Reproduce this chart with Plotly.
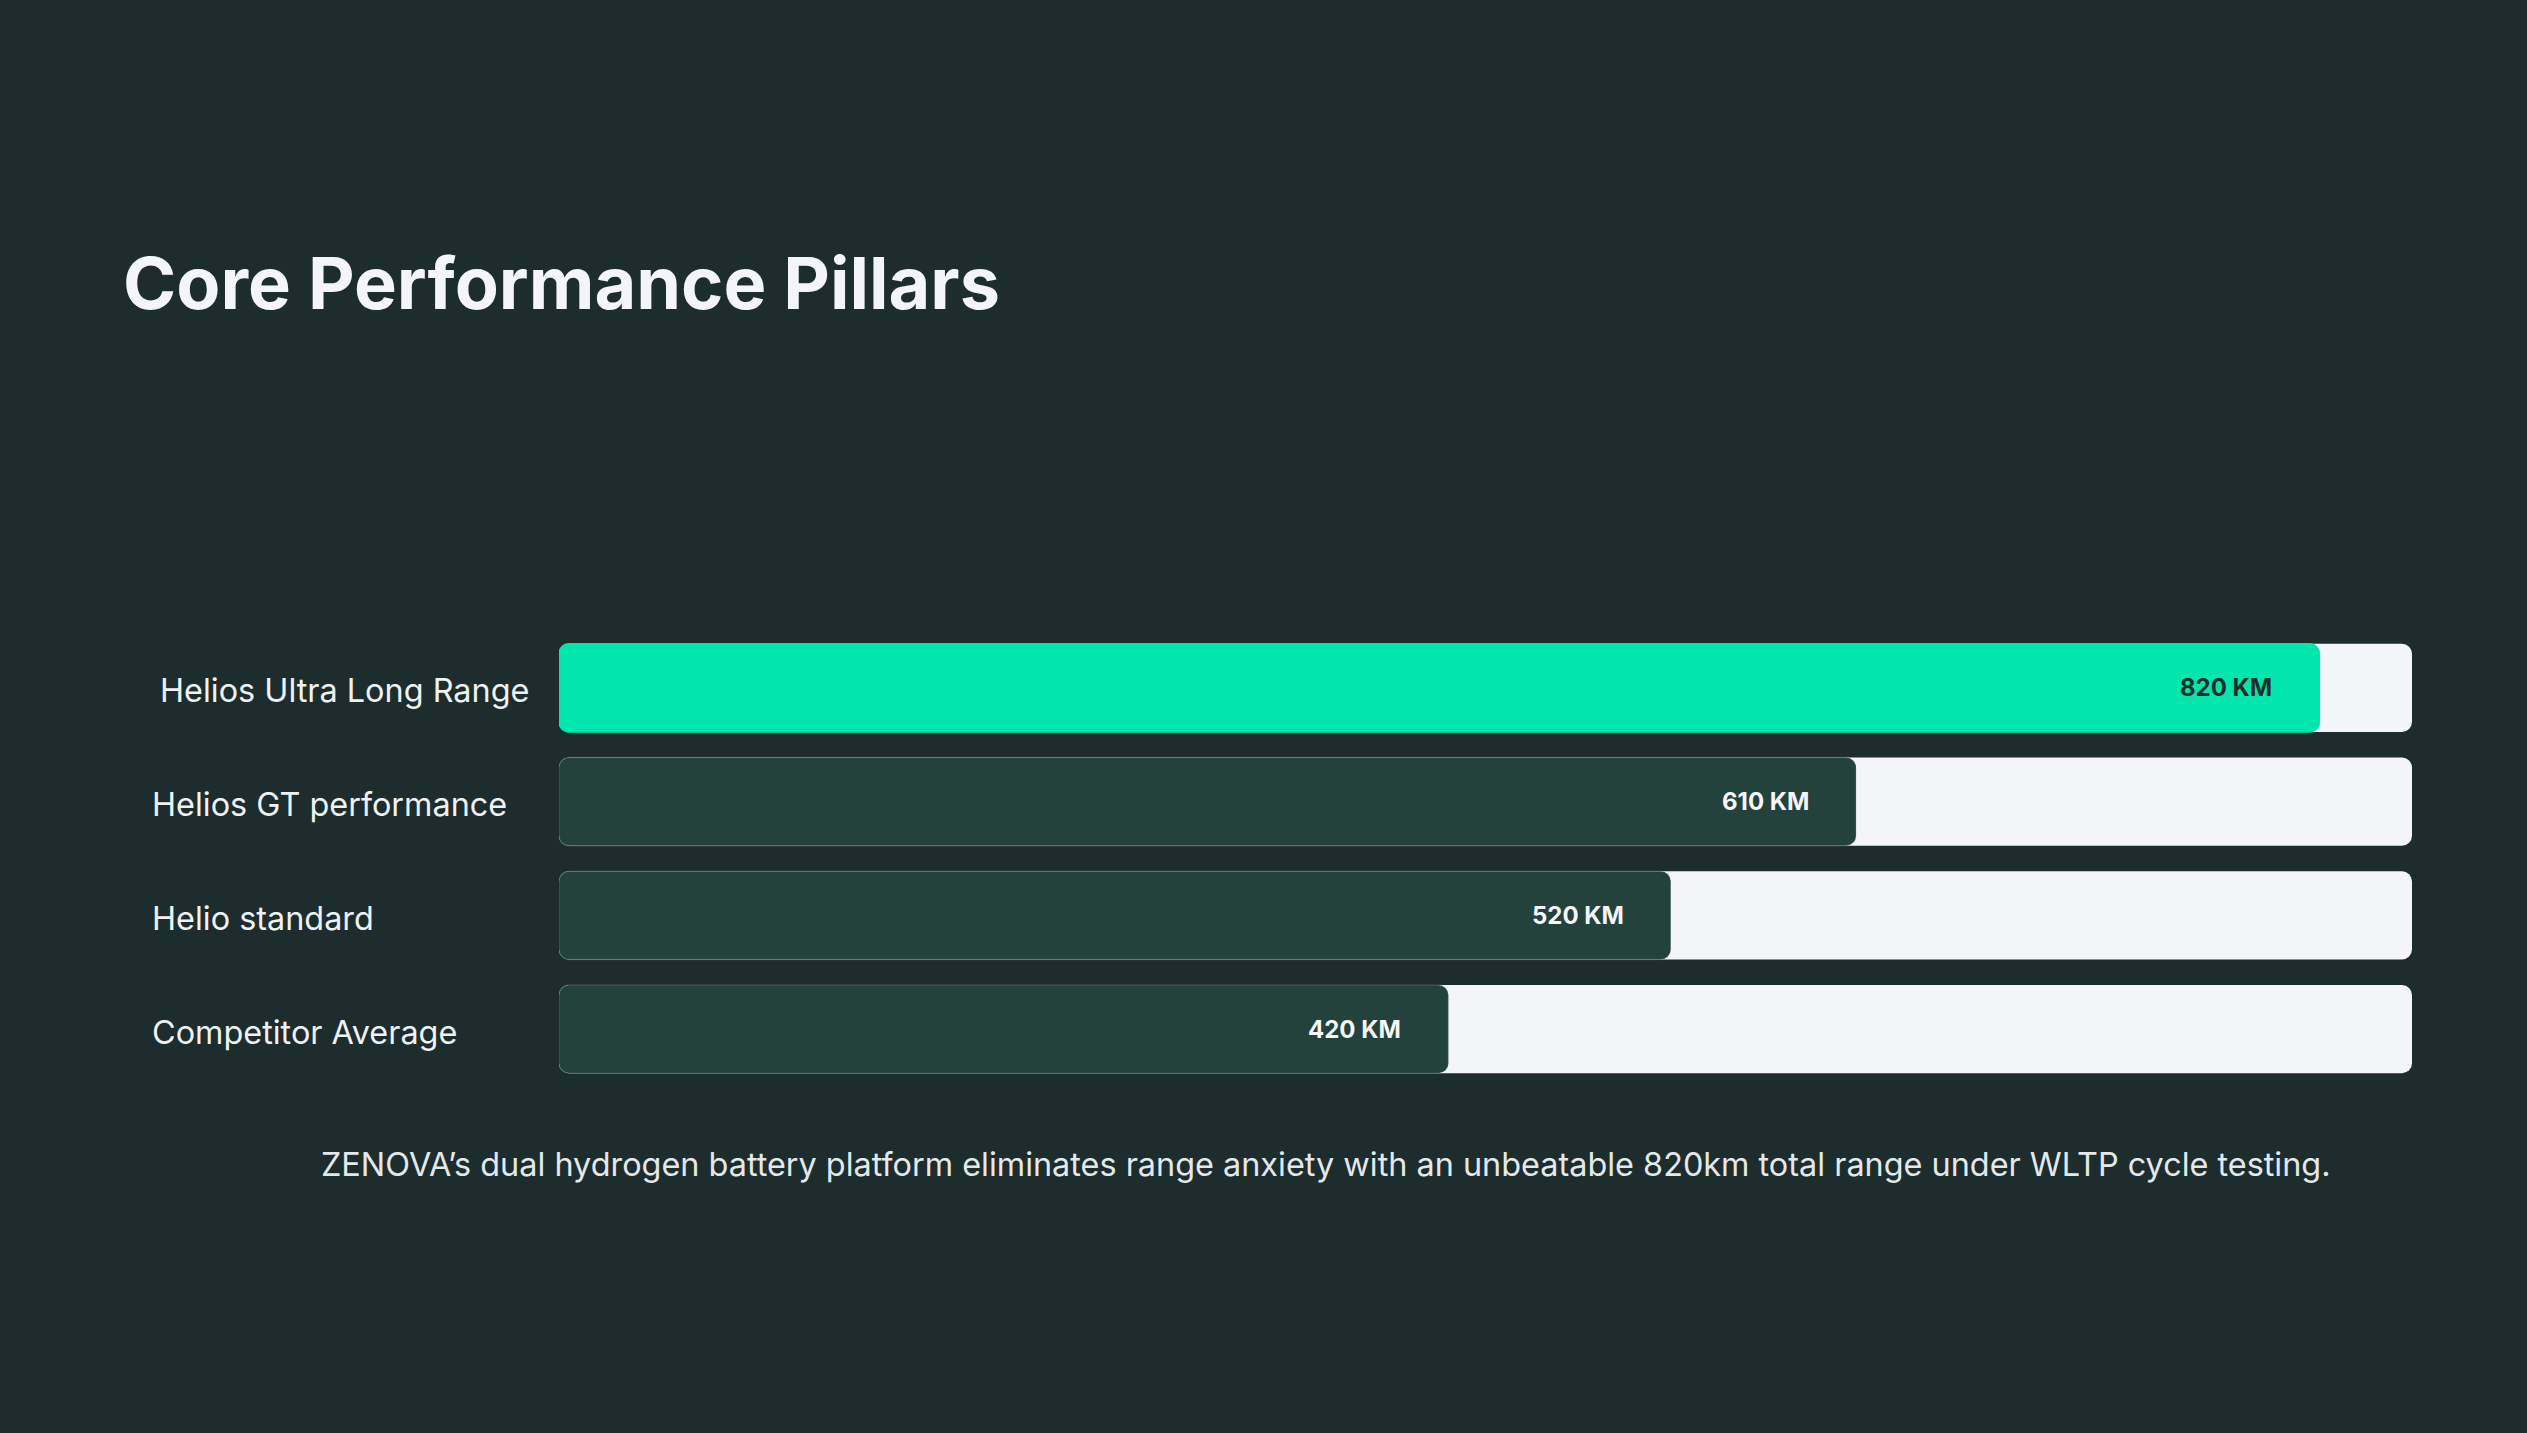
#!/usr/bin/env python3
"""Core Performance Pillars: range per model as progress-style bars."""

import plotly.graph_objects as go

MODELS = ["Helios Ultra Long Range", "Helios GT performance",
          "Helio standard", "Competitor Average"]
RANGE_KM = [820, 610, 520, 420]
FILL_PCT = [95, 70, 60, 48]          # share of the track each bar fills
TRACK_MAX = 100

TITLE = "Core Performance Pillars"
CAPTION = ("ZENOVA\u2019s dual hydrogen battery platform eliminates range anxiety "
           "with an unbeatable 820km total range under WLTP cycle testing.")

BG = "#1d2c2d"
TRACK = "#f3f5f8"
MINT = "#00e6ad"
DARK = "#22423b"
TXT = "#eef2f4"
FONT = "Inter"

W, H = 2527, 1433
BAR_W = 0.774
RADIUS = 10

n = len(MODELS)
fill_colors = [MINT] + [DARK] * (n - 1)
value_colors = [BG] + [TRACK] * (n - 1)
line_colors = [MINT] + ["rgba(255,255,255,0.12)"] * (n - 1)

fig = go.Figure()

# an explicit base makes plotly round both ends of the bar
fig.add_trace(go.Bar(
    y=MODELS, x=[TRACK_MAX] * n, base=[0] * n, orientation="h",
    marker=dict(color=TRACK, cornerradius=RADIUS, line=dict(width=0)),
    width=BAR_W, hoverinfo="skip", showlegend=False,
))
fig.add_trace(go.Bar(
    y=MODELS, x=FILL_PCT, base=[0] * n, orientation="h",
    marker=dict(color=fill_colors, cornerradius=RADIUS,
                line=dict(color=line_colors, width=1.5)),
    width=BAR_W, customdata=RANGE_KM,
    hovertemplate="%{y}: %{customdata} km<extra></extra>", showlegend=False,
))

# value labels inside the fill, right aligned
for m, km, pct, c in zip(MODELS, RANGE_KM, FILL_PCT, value_colors):
    fig.add_annotation(x=pct, y=m, xref="x", yref="y", text=f"<b>{km} KM</b>",
                       xanchor="right", yanchor="middle", xshift=-45, showarrow=False,
                       font=dict(family=FONT, size=24, color=c))

# row labels on the left
for i, m in enumerate(MODELS):
    fig.add_annotation(x=150 / W, y=m, xref="paper", yref="y", text=m,
                       xanchor="left", yanchor="middle", yshift=-3,
                       xshift=8 if i == 0 else 0, showarrow=False,
                       font=dict(family=FONT, size=32.4, color=TXT))

fig.add_annotation(x=121 / W, y=1 - 282 / H, xref="paper", yref="paper",
                   text=f"<b>{TITLE}</b>", xanchor="left", yanchor="middle",
                   showarrow=False, font=dict(family=FONT, size=72, color=TRACK))
fig.add_annotation(x=1326 / W, y=1 - 1164 / H, xref="paper", yref="paper",
                   text=CAPTION, xanchor="center", yanchor="middle",
                   showarrow=False, font=dict(family=FONT, size=32.4, color="#e3e9eb"))

fig.update_layout(
    xaxis=dict(domain=[559 / W, 2412 / W], range=[0, TRACK_MAX],
               visible=False, fixedrange=True),
    yaxis=dict(type="category", categoryorder="array", categoryarray=MODELS,
               range=[3.5, -0.5], domain=[1 - 1086 / H, 1 - 631 / H],
               visible=False, fixedrange=True),
    barmode="overlay", width=W, height=H, autosize=False,
    margin=dict(l=0, r=0, t=0, b=0, pad=0),
    paper_bgcolor=BG, plot_bgcolor=BG,
    font=dict(family=FONT, color=TXT),
)

fig.write_html("out.html", config={"displayModeBar": False},
               post_script="document.body.style.margin='0';"
                           "document.body.style.overflow='hidden';"
                           f"document.body.style.background='{BG}';")
